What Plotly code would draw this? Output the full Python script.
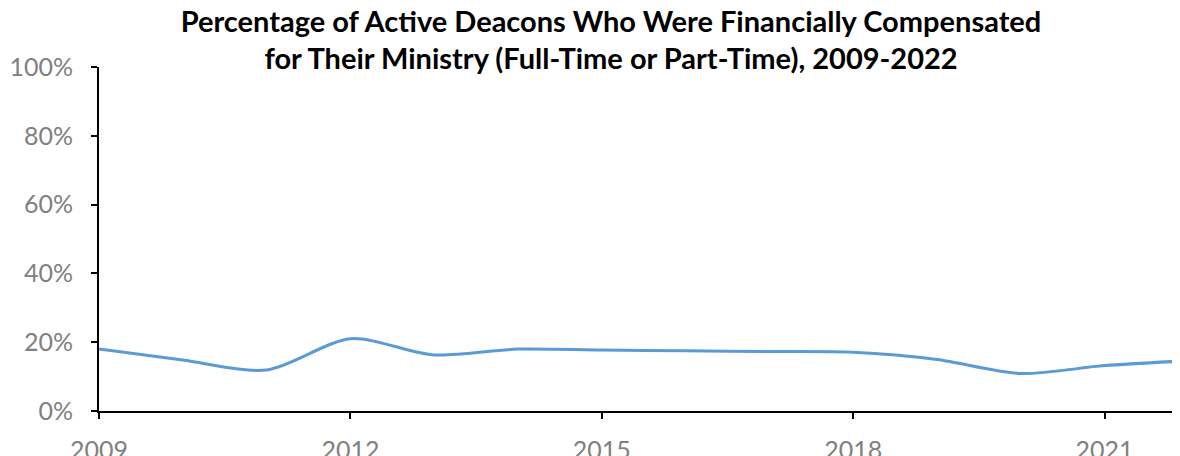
import plotly.graph_objects as go

years = [2009, 2010, 2011, 2012, 2013, 2014, 2015, 2016, 2017, 2018, 2019, 2020, 2021, 2022]
pct_compensated = [0.180, 0.148, 0.119, 0.210, 0.163, 0.180, 0.177, 0.175, 0.173, 0.171, 0.150, 0.109, 0.132, 0.146]
x_ticks = [2009, 2012, 2015, 2018, 2021]
y_ticks = [0, 0.2, 0.4, 0.6, 0.8, 1.0]
title_text = ("Percentage of Active Deacons Who Were Financially Compensated<br>"
              "for Their Ministry (Full-Time or Part-Time), 2009-2022")

W, H = 1180, 448  # page body has an 8px default margin; right part overflows the window

fig = go.Figure()
fig.add_trace(go.Scatter(
    x=years, y=pct_compensated, mode="lines",
    line=dict(color="#5B9BD5", width=3, shape="spline", smoothing=0.8),
    showlegend=False,
))

fig.update_layout(
    width=W, height=H,
    margin=dict(l=91, r=0, t=59, b=45, autoexpand=False),
    plot_bgcolor="white", paper_bgcolor="white",
    title=dict(text=title_text, x=(611 - 8) / W, xref="container", xanchor="center",
               y=1 - 23.5 / H, yref="container", yanchor="middle",
               font=dict(family="Lato", size=29, color="black", weight="bold")),
    xaxis=dict(range=[2009, 2009 + (W - 91) / 83.8], tickvals=x_ticks,
               ticktext=[str(v) for v in x_ticks], automargin=False,
               showline=True, linecolor="black", linewidth=2,
               ticks="outside", ticklen=6, tickwidth=2, tickcolor="black",
               showgrid=False, zeroline=False,
               tickfont=dict(family="Lato", size=25, color="#808080"),
               ticklabelstandoff=10),
    yaxis=dict(range=[0, 1], tickvals=y_ticks, tickformat=".0%", automargin=False,
               showline=True, linecolor="black", linewidth=2,
               ticks="outside", ticklen=6, tickwidth=2, tickcolor="black",
               showgrid=False, zeroline=False,
               tickfont=dict(family="Lato", size=25, color="#808080"),
               ticklabelstandoff=13),
)

fig.write_html("out.html")
